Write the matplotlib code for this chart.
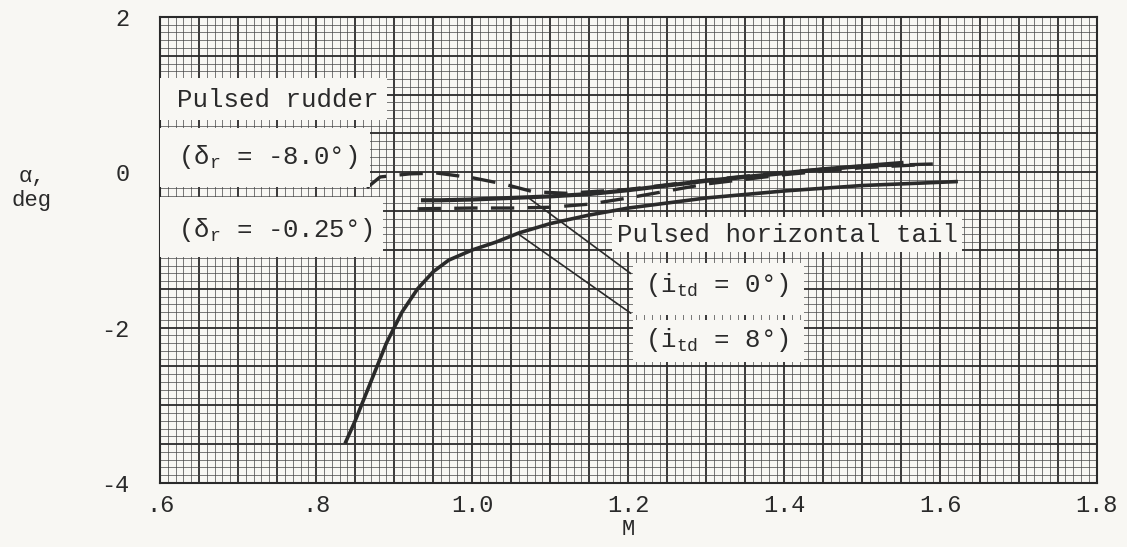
import numpy as np
import matplotlib.pyplot as plt
from matplotlib.patches import Rectangle

plt.rcParams['mathtext.fontset'] = 'custom'
plt.rcParams['mathtext.rm'] = 'Liberation Mono'
plt.rcParams['mathtext.it'] = 'Liberation Mono'
plt.rcParams['axes.unicode_minus'] = False
MONO = 'Liberation Mono'

# curva i_td = 8 deg (solida, de baixo)
m_itd8 = [0.838, 0.85, 0.87, 0.89, 0.91, 0.93, 0.95, 0.97, 1.0, 1.03, 1.06, 1.1, 1.15, 1.2, 1.3, 1.4, 1.5, 1.62]
a_itd8 = [-3.47, -3.2, -2.7, -2.2, -1.8, -1.5, -1.28, -1.13, -1.0, -0.9, -0.78, -0.66, -0.55, -0.46, -0.33, -0.24, -0.17, -0.12]

# curva i_td = 0 deg (solida, de cima)
m_itd0 = [0.937, 0.96, 1.0, 1.05, 1.1, 1.15, 1.2, 1.25, 1.3, 1.35, 1.4, 1.45, 1.5, 1.55]
a_itd0 = [-0.36, -0.36, -0.35, -0.33, -0.31, -0.28, -0.23, -0.17, -0.11, -0.06, -0.01, 0.04, 0.08, 0.12]

# leme pulsado, delta_r = -8.0 deg (tracejada)
m_dr8 = [0.865, 0.882, 0.92, 0.955, 1.0, 1.04, 1.078, 1.12, 1.2, 1.3, 1.4, 1.5, 1.6]
a_dr8 = [-0.2, -0.06, -0.02, -0.01, -0.07, -0.15, -0.25, -0.27, -0.22, -0.1, 0.0, 0.08, 0.11]

# leme pulsado, delta_r = -0.25 deg (tracejada)
m_dr025 = [0.93, 1.0, 1.05, 1.1, 1.15, 1.2, 1.25, 1.3, 1.4, 1.5, 1.58]
a_dr025 = [-0.47, -0.46, -0.46, -0.45, -0.41, -0.33, -0.24, -0.15, -0.03, 0.06, 0.1]

xticks = [0.6, 0.8, 1.0, 1.2, 1.4, 1.6, 1.8]
xticklabels = ['.6', '.8', '1.0', '1.2', '1.4', '1.6', '1.8']
yticks = [-4, -2, 0, 2]

paper = '#f8f7f3'
ink = '#2a2a2a'

fig = plt.figure(figsize=(11.27, 5.47), dpi=100, facecolor=paper)
ax = fig.add_axes([0.142, 0.117, 0.831, 0.852])
ax.set_facecolor(paper)
ax.set_xlim(0.6, 1.8)
ax.set_ylim(-4, 2)

# papel milimetrado
for v in np.arange(0.6, 1.8001, 0.01):
    heavy = abs(v * 20 - round(v * 20)) < 1e-6
    ax.axvline(v, color=ink if heavy else '#444444', lw=1.3 if heavy else 0.5, zorder=0)
for v in np.arange(-4, 2.0001, 0.1):
    heavy = abs(v * 2 - round(v * 2)) < 1e-6
    ax.axhline(v, color=ink if heavy else '#444444', lw=1.3 if heavy else 0.5, zorder=0)

ax.plot(m_itd8, a_itd8, color=ink, lw=2.6, zorder=3)
ax.plot(m_itd0, a_itd0, color=ink, lw=3.0, zorder=3)
ax.plot(m_dr8, a_dr8, color=ink, lw=2.4, dashes=(7, 4), zorder=3)
ax.plot(m_dr025, a_dr025, color=ink, lw=2.4, dashes=(7, 4), zorder=3)

# caixas brancas dos rotulos
boxes = [(0.0, 0.779, 0.242, 0.090), (0.0, 0.635, 0.224, 0.127), (0.0, 0.485, 0.238, 0.129),
         (0.483, 0.496, 0.373, 0.075), (0.505, 0.361, 0.183, 0.111), (0.505, 0.260, 0.183, 0.090)]
for x0, y0, w, h in boxes:
    ax.add_patch(Rectangle((x0, y0), w, h, transform=ax.transAxes, facecolor=paper,
                           edgecolor='none', zorder=4))

fs = 18.5
ax.text(0.018, 0.822, 'Pulsed rudder', transform=ax.transAxes, fontsize=fs, family=MONO,
        va='center', color=ink, zorder=5)
ax.text(0.019, 0.700, '(δ$_\\mathrm{r}$ = -8.0°)', transform=ax.transAxes, fontsize=fs,
        family=MONO, va='center', color=ink, zorder=5)
ax.text(0.019, 0.543, '(δ$_\\mathrm{r}$ = -0.25°)', transform=ax.transAxes, fontsize=fs,
        family=MONO, va='center', color=ink, zorder=5)
ax.text(0.488, 0.532, 'Pulsed horizontal tail', transform=ax.transAxes, fontsize=fs,
        family=MONO, va='center', color=ink, zorder=5)
ax.text(0.518, 0.425, '(i$_\\mathrm{td}$ = 0°)', transform=ax.transAxes, fontsize=fs,
        family=MONO, va='center', color=ink, zorder=5)
ax.text(0.518, 0.307, '(i$_\\mathrm{td}$ = 8°)', transform=ax.transAxes, fontsize=fs,
        family=MONO, va='center', color=ink, zorder=5)

# linhas de chamada
ax.annotate('', xy=(1.071, -0.32), xytext=(0.505, 0.446), textcoords='axes fraction',
            arrowprops=dict(arrowstyle='-', color=ink, lw=1.2), zorder=4)
ax.annotate('', xy=(1.057, -0.78), xytext=(0.505, 0.361), textcoords='axes fraction',
            arrowprops=dict(arrowstyle='-', color=ink, lw=1.2), zorder=4)

ax.set_xticks(xticks)
ax.set_xticklabels(xticklabels)
ax.set_yticks(yticks)
ax.tick_params(length=0, labelsize=17, colors=ink)
for lab in ax.get_xticklabels() + ax.get_yticklabels():
    lab.set_family(MONO)
ax.tick_params(axis='x', pad=8)
ax.tick_params(axis='y', pad=22)
for s in ax.spines.values():
    s.set_color(ink)
    s.set_linewidth(1.5)

ax.set_xlabel('M', fontsize=16, family=MONO, color=ink, labelpad=1)
fig.text(0.028, 0.655, 'α,\ndeg', fontsize=16, family=MONO, color=ink, ha='center',
         va='center', linespacing=1.2)

fig.savefig('out.png', dpi=100, facecolor=paper)
